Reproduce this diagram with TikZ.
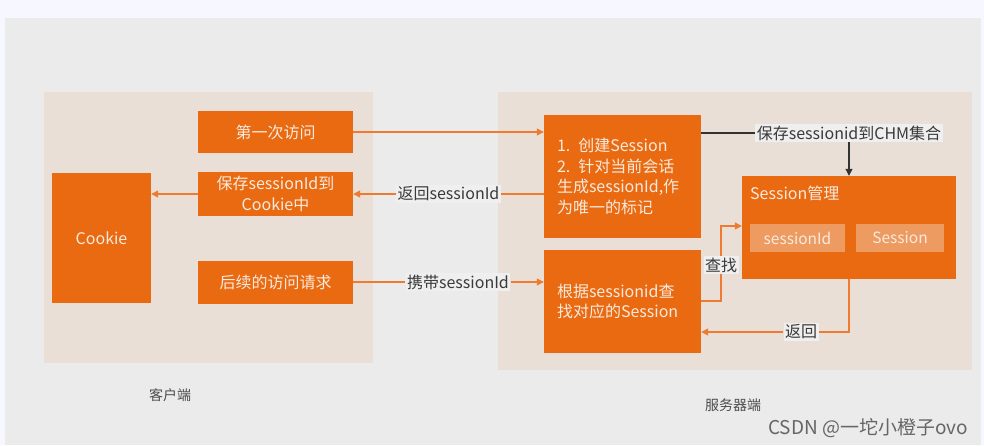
\documentclass[tikz,border=0pt]{standalone}
\usepackage{fontspec}
\setmainfont{Noto Sans CJK SC}
\usetikzlibrary{arrows.meta}
\definecolor{boxorange}{HTML}{EA6A12}
\definecolor{panelpink}{HTML}{EADFD6}
\definecolor{bggray}{HTML}{EBEBEB}
\definecolor{subfill}{HTML}{EE9B62}
\definecolor{boxtext}{HTML}{F8EADD}
\definecolor{linkorange}{HTML}{EE7B30}
\definecolor{labeltext}{HTML}{3A3A3A}
\definecolor{labelbg}{HTML}{EFEFEF}

\begin{document}
\begin{tikzpicture}[x=1pt, y=-1pt,
    obox/.style={fill=boxorange, text=boxtext, inner sep=0pt, font=\fontsize{16}{20.5}\selectfont},
    subbox/.style={fill=subfill, text=boxtext, inner sep=0pt, minimum height=28pt, font=\fontsize{15.5}{18}\selectfont},
    tag/.style={fill=labelbg, text=labeltext, inner sep=1.5pt, font=\fontsize{16}{18}\selectfont},
    flow/.style={draw=linkorange, line width=1.3pt, -{Triangle[length=7pt, width=7pt]}},
    plain/.style={draw=linkorange, line width=1.3pt}]
        % Background
        \fill[white!97!blue] (0,0) rectangle (984,445);
        \fill[bggray] (5,18) rectangle (981,445);
        \useasboundingbox (0,0) rectangle (984,445);
        
        % Client panel
        \fill[panelpink] (44,92) rectangle (373,363);
        % Server panel
        \fill[panelpink] (498,92) rectangle (972,370);
        
        % Client boxes
        \node[obox, minimum width=99pt, minimum height=130pt] (cookie) at (101.5,238) {Cookie};
        \node[obox, minimum width=155pt, minimum height=42pt] (first) at (275.5,132) {第一次访问};
        \node[obox, minimum width=155pt, minimum height=44pt, align=center] (save) at (275.5,194) {保存sessionId到\\Cookie中};
        \node[obox, minimum width=155pt, minimum height=43pt] (later) at (275.5,282) {后续的访问请求};
        
        % Server boxes
        \node[obox, minimum width=157pt, minimum height=123pt, text width=131pt, align=left] (create) at (622.5,176.5)
            {1. 创建Session\\2. 针对当前会话\\生成sessionId,作\\为唯一的标记};
        \node[obox, minimum width=157pt, minimum height=103pt, text width=131pt, align=left] (find) at (622.5,301.5)
            {根据sessionid查\\找对应的Session};
        \node[obox, minimum width=214pt, minimum height=103pt] (mgr) at (849,227.5) {};
        \node[obox, fill=none, anchor=west] (mgrtitle) at (750,193) {Session管理};
        \node[subbox, minimum width=95pt] (subid) at (797.5,238) {sessionId};
        \node[subbox, minimum width=88pt] (subsess) at (900,238) {Session};
        
        % Labels
        \node[tag] (ret) at (448.5,194) {返回sessionId};
        \node[tag] (carry) at (458,282) {携带sessionId};
        \node[tag] (chm) at (849,133) {保存sessionid到CHM集合};
        \node[tag] (look) at (721,265) {查找};
        \node[tag] (back) at (801,332) {返回};
        
        % Arrows between client and server
        \draw[flow] (first.east) -- (first.east -| create.west);
        \draw[plain] (create.west |- ret.east) -- (ret.east);
        \draw[flow] (ret.west) -- (save.east);
        \draw[plain] (later.east) -- (carry.west);
        \draw[flow] (carry.east) -- (carry.east -| find.west);
        \draw[flow] (save.west) -- (save.west -| cookie.east);
        
        % Arrows inside server
        \draw[draw=black!80, line width=1.1pt] (create.east |- chm.west) -- (chm.west);
        \draw[draw=black!80, line width=1.1pt, -{Triangle[length=7pt, width=7pt]}] (chm.south) -- (chm.south |- mgr.north);
        \coordinate (bendup) at (721,301);
        \draw[plain] (find.east |- bendup) -- (bendup) -- (look.south);
        \draw[flow] (look.north) -- (721,226) -- (mgr.west |- 0,226);
        \coordinate (benddown) at (849,332);
        \draw[plain] (mgr.south) -- (benddown) -- (back.east);
        \draw[flow] (back.west) -- (back.west -| find.east);
        
        % Panel captions
        \node[text=black!70, font=\fontsize{14}{16}\selectfont] (client) at (170,395) {客户端};
        \node[text=black!70, font=\fontsize{14}{16}\selectfont] (server) at (733,405) {服务器端};
        \node[text=black!60, font=\fontsize{19}{22}\selectfont] (mark) at (868,428) {CSDN @一坨小橙子ovo};
    \end{tikzpicture}
\end{document}
